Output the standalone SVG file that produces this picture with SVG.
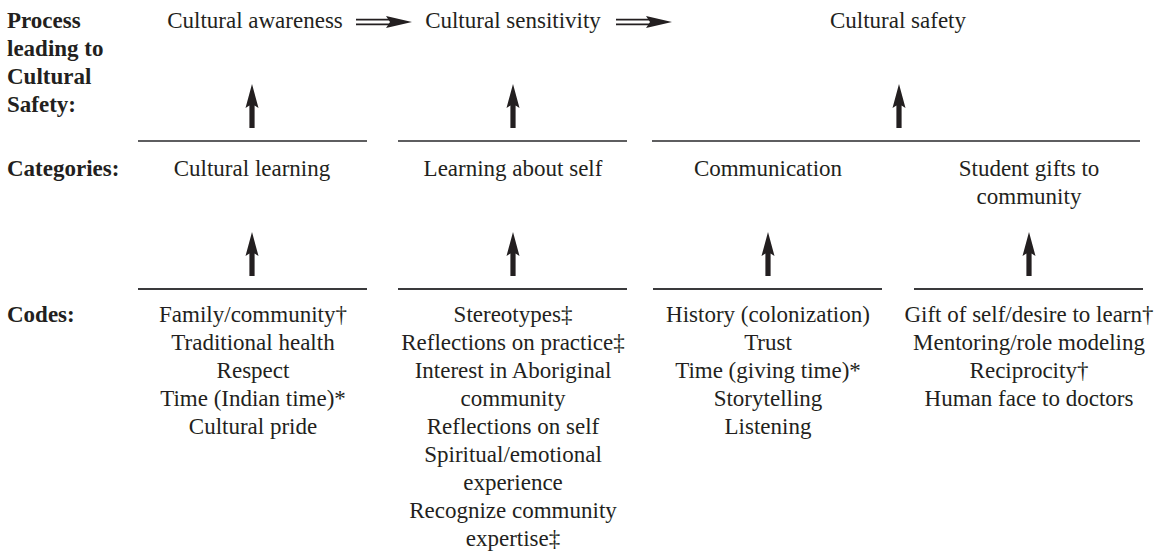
<svg xmlns="http://www.w3.org/2000/svg" xmlns:xlink="http://www.w3.org/1999/xlink" width="1165" height="551" viewBox="0 0 1165 551">
  <style>
    text { font-family: "Liberation Serif", "Times New Roman", serif; font-size: 23px; fill: #231f20; }
    .lbl { font-weight: bold; }
    .c { text-anchor: middle; }
    .rule { stroke: #5e5e60; stroke-width: 2; }
    .rule2 { stroke: #3a3a3c; stroke-width: 2; }
    .ink { fill: #231f20; }
    .dbl { stroke: #231f20; stroke-width: 1.6; }
  </style>
  <defs>
    <!-- upward arrow, tip at origin -->
    <path id="up" class="ink" d="M0,0 L6.5,24 L2.6,21.5 L2.6,44 L-2.6,44 L-2.6,21.5 L-6.5,24 Z"/>
    <!-- double-line rightward arrow, tail at origin -->
    <g id="dblArrow">
      <line class="dbl" x1="0" y1="-2.4" x2="34" y2="-2.4"/>
      <line class="dbl" x1="0" y1="2.4" x2="34" y2="2.4"/>
      <path class="ink" d="M56,0 L30,-6 L34,0 L30,6 Z"/>
    </g>
  </defs>

  <!-- row labels -->
  <g id="label-process">
    <text class="lbl" x="7" y="28">Process</text>
    <text class="lbl" x="7" y="56">leading to</text>
    <text class="lbl" x="7" y="84">Cultural</text>
    <text class="lbl" x="7" y="112">Safety:</text>
  </g>
  <g id="label-categories">
    <text class="lbl" x="7" y="176">Categories:</text>
  </g>
  <g id="label-codes">
    <text class="lbl" x="7" y="322">Codes:</text>
  </g>

  <!-- process stages -->
  <g id="stage-awareness"><text class="c" x="255" y="28">Cultural awareness</text></g>
  <g id="stage-sensitivity"><text class="c" x="513" y="28">Cultural sensitivity</text></g>
  <g id="stage-safety"><text class="c" x="898" y="28">Cultural safety</text></g>

  <!-- categories -->
  <g id="cat-cultural-learning">
    <line class="rule" x1="138" y1="141" x2="367" y2="141"/>
    <text class="c" x="252" y="176">Cultural learning</text>
  </g>
  <g id="cat-learning-self">
    <line class="rule" x1="398" y1="141" x2="627" y2="141"/>
    <text class="c" x="513" y="176">Learning about self</text>
  </g>
  <g id="cat-communication-gifts">
    <line class="rule" x1="652" y1="141" x2="1140" y2="141"/>
    <text class="c" x="768" y="176">Communication</text>
    <text class="c" x="1029" y="176">Student gifts to</text>
    <text class="c" x="1029" y="204">community</text>
  </g>

  <!-- codes -->
  <g id="codes-cultural-learning">
    <line class="rule2" x1="138" y1="289" x2="367" y2="289"/>
    <text class="c" x="253" y="322">Family/community†</text>
    <text class="c" x="253" y="350">Traditional health</text>
    <text class="c" x="253" y="378">Respect</text>
    <text class="c" x="253" y="406">Time (Indian time)*</text>
    <text class="c" x="253" y="434">Cultural pride</text>
  </g>
  <g id="codes-learning-self">
    <line class="rule2" x1="398" y1="289" x2="627" y2="289"/>
    <text class="c" x="513" y="322">Stereotypes‡</text>
    <text class="c" x="513" y="350">Reflections on practice‡</text>
    <text class="c" x="513" y="378">Interest in Aboriginal</text>
    <text class="c" x="513" y="406">community</text>
    <text class="c" x="513" y="434">Reflections on self</text>
    <text class="c" x="513" y="462">Spiritual/emotional</text>
    <text class="c" x="513" y="490">experience</text>
    <text class="c" x="513" y="518">Recognize community</text>
    <text class="c" x="513" y="546">expertise‡</text>
  </g>
  <g id="codes-communication">
    <line class="rule2" x1="653" y1="289" x2="882" y2="289"/>
    <text class="c" x="768" y="322">History (colonization)</text>
    <text class="c" x="768" y="350">Trust</text>
    <text class="c" x="768" y="378">Time (giving time)*</text>
    <text class="c" x="768" y="406">Storytelling</text>
    <text class="c" x="768" y="434">Listening</text>
  </g>
  <g id="codes-student-gifts">
    <line class="rule2" x1="914" y1="289" x2="1143" y2="289"/>
    <text class="c" x="1029" y="322">Gift of self/desire to learn†</text>
    <text class="c" x="1029" y="350">Mentoring/role modeling</text>
    <text class="c" x="1029" y="378">Reciprocity†</text>
    <text class="c" x="1029" y="406">Human face to doctors</text>
  </g>

  <!-- connectors -->
  <g id="connectors">
    <use xlink:href="#dblArrow" x="356" y="22"/>
    <use xlink:href="#dblArrow" x="616" y="22"/>
    <use xlink:href="#up" x="252" y="84"/>
    <use xlink:href="#up" x="513" y="84"/>
    <use xlink:href="#up" x="899" y="84"/>
    <use xlink:href="#up" x="252" y="232"/>
    <use xlink:href="#up" x="513" y="232"/>
    <use xlink:href="#up" x="768" y="232"/>
    <use xlink:href="#up" x="1029" y="232"/>
  </g>
</svg>
